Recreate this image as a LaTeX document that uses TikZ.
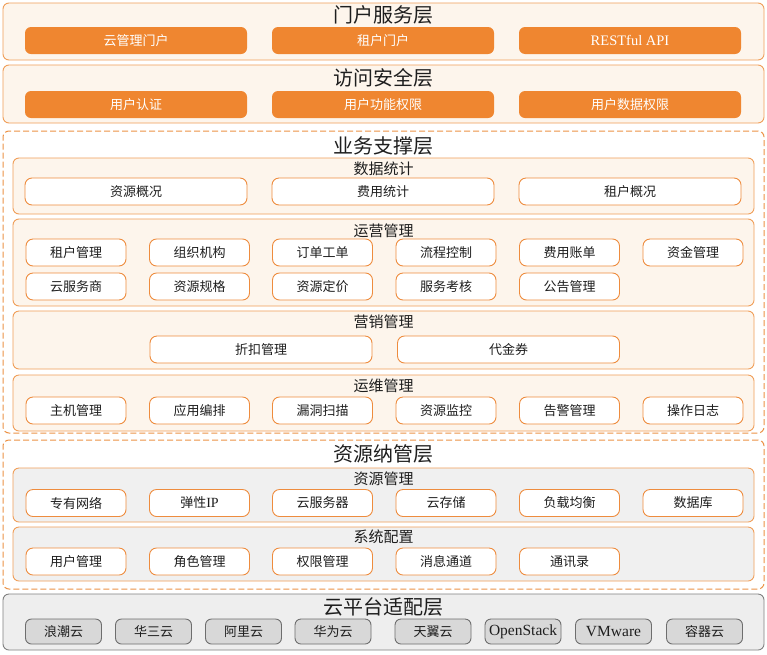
\documentclass[tikz,border=0pt]{standalone}
\usepackage{fontspec}
\setmainfont{Noto Sans CJK SC}
\newfontfamily\latinserif{Liberation Serif}
\usepackage{tikz}

\begin{document}
\begin{tikzpicture}[x=1pt, y=-1pt,
    layerbox/.style={draw=layerline, fill=cream, line width=0.9pt, rounded corners=6pt, minimum width=761pt, inner sep=0pt},
    dashbox/.style={layerbox, draw=dashline, fill=white, line width=1pt, dash pattern=on 6pt off 3pt},
    groupbox/.style={draw=layerline, fill=cream, line width=0.9pt, rounded corners=6pt, minimum width=741pt, inner sep=0pt},
    greygroup/.style={groupbox, fill=greyfill},
    platformbox/.style={draw=platline, fill=platfill, line width=0.9pt, rounded corners=6pt, minimum width=761pt, inner sep=0pt},
    layertitle/.style={text=textdark, inner sep=0pt, font=\fontsize{20}{22}\selectfont},
    grouptitle/.style={text=textdark, inner sep=0pt, font=\fontsize{15}{17}\selectfont},
    orangebtn/.style={fill=btnorange, text=white, rounded corners=6pt, minimum width=222pt, minimum height=27pt, inner sep=0pt, font=\fontsize{13}{15}\selectfont},
    itembox/.style={draw=itemline, fill=white, line width=0.9pt, rounded corners=7pt, minimum height=27pt, inner sep=0pt, text=textdark, font=\fontsize{13}{15}\selectfont},
    wideitem/.style={itembox, minimum width=222pt},
    smallitem/.style={itembox, minimum width=100pt},
    cloudbox/.style={draw=platitemline, fill=platitem, line width=0.9pt, rounded corners=6pt, minimum width=76pt, minimum height=25pt, inner sep=0pt, text=textdark, font=\fontsize{13}{15}\selectfont}]

    % Colours of the layers
    \definecolor{layerline}{RGB}{240,158,88}   % orange frame
    \definecolor{dashline}{RGB}{236,146,70}    % dashed orange frame
    \definecolor{itemline}{RGB}{238,140,62}    % orange item frame
    \definecolor{btnorange}{RGB}{239,134,48}   % filled orange buttons
    \definecolor{cream}{RGB}{253,245,236}      % cream background
    \definecolor{greyfill}{RGB}{240,240,240}   % grey group background
    \definecolor{platline}{RGB}{128,128,128}   % grey frame of the bottom layer
    \definecolor{platfill}{RGB}{238,238,238}
    \definecolor{platitemline}{RGB}{110,110,110}
    \definecolor{platitem}{RGB}{216,216,216}
    \definecolor{textdark}{RGB}{30,30,30}

    % Fix the page size
    \fill[white] (0,0) rectangle (767,654);
    \useasboundingbox (0,0) rectangle (767,654);

    % Portal layer
    \node[layerbox, minimum height=57pt] (portal) at (383.5,31.5) {};
    \node[layertitle] (portaltitle) at (383.5,14.5) {门户服务层};
    \node[orangebtn] (cloudportal) at (136,40.5) {云管理门户};
    \node[orangebtn] (tenantportal) at (383,40.5) {租户门户};
    \node[orangebtn] (restapi) at (630,40.5) {\latinserif\fontsize{14.5}{16}\selectfont RESTful API};

    % Access security layer
    \node[layerbox, minimum height=58pt] (access) at (383.5,94) {};
    \node[layertitle] (accesstitle) at (383.5,78) {访问安全层};
    \node[orangebtn] (userauth) at (136,104.5) {用户认证};
    \node[orangebtn] (funcperm) at (383,104.5) {用户功能权限};
    \node[orangebtn] (dataperm) at (630,104.5) {用户数据权限};

    % Business support layer (dashed frame)
    \node[dashbox, minimum height=302pt] (business) at (383.5,282) {};
    \node[layertitle] (businesstitle) at (383.5,146) {业务支撑层};

    % Data statistics
    \node[groupbox, minimum height=56pt] (stats) at (383.5,186) {};
    \node[grouptitle] (statstitle) at (383.5,169) {数据统计};
    \node[wideitem] (resoverview) at (136,191.5) {资源概况};
    \node[wideitem] (costsum) at (383,191.5) {费用统计};
    \node[wideitem] (tenantoverview) at (630,191.5) {租户概况};

    % Operation management
    \node[groupbox, minimum height=87pt] (ops) at (383.5,262.5) {};
    \node[grouptitle] (opstitle) at (383.5,231) {运营管理};
    \node[smallitem] (tenantmgmt) at (76,252.5) {租户管理};
    \node[smallitem] (orgunit) at (199.5,252.5) {组织机构};
    \node[smallitem] (orderticket) at (322.5,252.5) {订单工单};
    \node[smallitem] (workflow) at (446,252.5) {流程控制};
    \node[smallitem] (billing) at (569.5,252.5) {费用账单};
    \node[smallitem] (funds) at (693,252.5) {资金管理};
    \node[smallitem] (cloudvendor) at (76,286.5) {云服务商};
    \node[smallitem] (resspec) at (199.5,286.5) {资源规格};
    \node[smallitem] (respricing) at (322.5,286.5) {资源定价};
    \node[smallitem] (servicereview) at (446,286.5) {服务考核};
    \node[smallitem] (notices) at (569.5,286.5) {公告管理};

    % Marketing management
    \node[groupbox, minimum height=58pt] (marketing) at (383.5,340) {};
    \node[grouptitle] (marketingtitle) at (383.5,322) {营销管理};
    \node[wideitem] (discount) at (261,349.5) {折扣管理};
    \node[wideitem] (voucher) at (508.5,349.5) {代金券};

    % Maintenance management
    \node[groupbox, minimum height=56pt] (maint) at (383.5,403) {};
    \node[grouptitle] (mainttitle) at (383.5,386) {运维管理};
    \node[smallitem] (hostmgmt) at (76,410.5) {主机管理};
    \node[smallitem] (apporch) at (199.5,410.5) {应用编排};
    \node[smallitem] (vulnscan) at (322.5,410.5) {漏洞扫描};
    \node[smallitem] (resmonitor) at (446,410.5) {资源监控};
    \node[smallitem] (alarmmgmt) at (569.5,410.5) {告警管理};
    \node[smallitem] (oplog) at (693,410.5) {操作日志};

    % Resource management layer (dashed frame)
    \node[dashbox, minimum height=149pt] (resource) at (383.5,514.5) {};
    \node[layertitle] (resourcetitle) at (383.5,454) {资源纳管层};

    % Resource management
    \node[greygroup, minimum height=54pt] (resmgmt) at (383.5,495) {};
    \node[grouptitle] (resmgmttitle) at (383.5,478.5) {资源管理};
    \node[smallitem] (vpc) at (76,503) {专有网络};
    \node[smallitem] (eip) at (199.5,503) {弹性{\latinserif\fontsize{14}{16}\selectfont IP}};
    \node[smallitem] (ecs) at (322.5,503) {云服务器};
    \node[smallitem] (storage) at (446,503) {云存储};
    \node[smallitem] (lb) at (569.5,503) {负载均衡};
    \node[smallitem] (database) at (693,503) {数据库};

    % System configuration
    \node[greygroup, minimum height=54pt] (sysconf) at (383.5,554) {};
    \node[grouptitle] (sysconftitle) at (383.5,537) {系统配置};
    \node[smallitem] (usermgmt) at (76,561.5) {用户管理};
    \node[smallitem] (rolemgmt) at (199.5,561.5) {角色管理};
    \node[smallitem] (permmgmt) at (322.5,561.5) {权限管理};
    \node[smallitem] (msgchannel) at (446,561.5) {消息通道};
    \node[smallitem] (contacts) at (569.5,561.5) {通讯录};

    % Cloud platform adapter layer
    \node[platformbox, minimum height=56pt] (adapter) at (383.5,622) {};
    \node[layertitle] (adaptertitle) at (383.5,606.5) {云平台适配层};
    \node[cloudbox] (langchao) at (63.5,631.5) {浪潮云};
    \node[cloudbox] (hthreec) at (153.5,631.5) {华三云};
    \node[cloudbox] (aliyun) at (243.5,631.5) {阿里云};
    \node[cloudbox] (huawei) at (333,631.5) {华为云};
    \node[cloudbox] (tianyi) at (433,631.5) {天翼云};
    \node[cloudbox] (openstack) at (523,631.5) {\latinserif\fontsize{15.5}{17}\selectfont OpenStack};
    \node[cloudbox] (vmware) at (613.5,631.5) {\latinserif\fontsize{15.5}{17}\selectfont VMware};
    \node[cloudbox] (container) at (704.5,631.5) {容器云};

\end{tikzpicture}
\end{document}
